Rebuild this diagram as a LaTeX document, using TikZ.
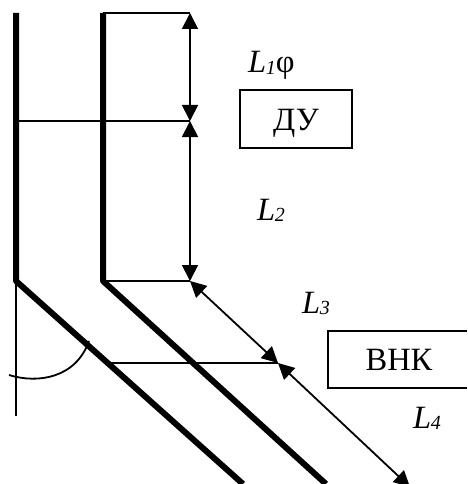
\documentclass[tikz,border=0pt]{standalone}
\usepackage{fontspec}
\usepackage{xcolor}
\usepackage{tikz}
\usetikzlibrary{arrows.meta}
\setmainfont{Liberation Serif}
\newcommand{\dimname}[1]{\textit{L\kern-0.5pt{\fontsize{20}{20}\selectfont\raisebox{-1.5pt}{#1}}}}

\tikzset{
  wall/.style={line width=6pt},
  thinline/.style={line width=1.8pt},
  dimline/.style={line width=1.8pt, {Triangle[length=16pt,width=16pt]}-{Triangle[length=16pt,width=16pt]}},
  devicebox/.style={draw, line width=1.8pt, minimum width=112pt, minimum height=58pt, inner sep=0pt},
  txt/.style={font=\fontsize{32.5}{36}\selectfont, inner sep=0pt}
}

\begin{document}
\begin{tikzpicture}[x=1pt, y=-1pt]
\useasboundingbox (0,0) rectangle (467,484);

% outer wall
\coordinate (a1) at (16,13);
\coordinate (a2) at (16,281);
\coordinate (a3) at (243,484);
\draw[wall, line join=round] (a1) -- (a2) -- (a3);

% inner wall
\coordinate (b1) at (103,13);
\coordinate (b2) at (103,281);
\coordinate (b3) at (326,484);
\draw[wall, line join=round] (b1) -- (b2) -- (b3);

% dimension points
\coordinate (p0) at (190,13);
\coordinate (p1) at (190,121);
\coordinate (p2) at (190,281);
\coordinate (p3) at (278,363);
\coordinate (p4) at (410,487);
\coordinate (h1) at (16,121);
\coordinate (h3) at (108,363);

\draw[thinline] (b1) -- (p0);
\draw[thinline] (h1) -- (p1);
\draw[thinline] (b2) -- (p2);
\draw[thinline] (h3) -- (p3);

\draw[dimline] (p0) -- (p1);
\draw[dimline] (p1) -- (p2);
\draw[dimline] (p2) -- (p3);
\draw[dimline] (p3) -- (p4);

% angle
\coordinate (v1) at (16,416);
\coordinate (c1) at (9,375);
\coordinate (c2) at (89,341);
\draw[thinline] (a2) -- (v1);
\draw[thinline] (c1) .. controls (38,384) and (76,378) .. (c2);

% devices
\node[devicebox] (du) at (296,119) {};
\node[txt, anchor=base] (dutext) at (296,130) {ДУ};
\node[txt] (vnk) at (399,360) {ВНК};
\coordinate (v0) at (467,331);
\coordinate (v5) at (328,331);
\coordinate (v6) at (328,388);
\coordinate (v7) at (467,388);
\draw[thinline] (v0) -- (v5) -- (v6) -- (v7);

% labels
\node[txt, anchor=base west] (l1) at (248,73) {\dimname{1}φ};
\node[txt, anchor=base west] (l2) at (257,220) {\dimname{2}};
\node[txt, anchor=base west] (l3) at (302,313) {\dimname{3}};
\node[txt, anchor=base west] (l4) at (413,428) {\dimname{4}};

\end{tikzpicture}
\end{document}
